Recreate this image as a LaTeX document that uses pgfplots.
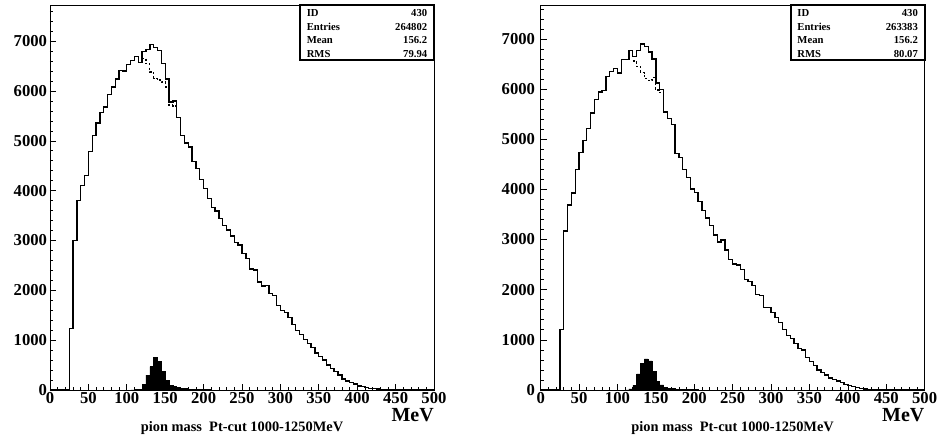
\documentclass[border=0pt]{standalone}
\usepackage{fontspec}
\setmainfont{Liberation Serif}
\usepackage{pgfplots}
\usepackage{pgfplotstable}
\pgfplotsset{compat=1.18}

\pgfplotstableread{
x y
0 0
25 1230
30 3000
35 3800
40 4100
45 4300
50 4780
55 5110
60 5360
65 5570
70 5680
75 5930
80 6080
85 6240
90 6410
95 6400
100 6530
105 6610
110 6690
115 6570
120 6790
125 6840
130 6930
135 6880
140 6820
145 6550
150 6240
155 5780
160 5800
165 5470
170 5110
175 4960
180 4880
185 4590
190 4440
195 4230
200 4040
205 3840
210 3660
215 3590
220 3440
225 3300
230 3210
235 3090
240 2960
245 2910
250 2740
255 2640
260 2430
265 2410
270 2170
275 2090
280 2100
285 1930
290 1890
295 1700
300 1600
305 1560
310 1450
315 1320
320 1200
325 1120
330 1020
335 936
340 850
345 740
350 670
355 600
360 500
365 430
370 370
375 300
380 220
385 180
390 150
395 120
400 80
405 65
410 45
415 33
420 27
425 20
430 13
435 8
440 5
445 3
450 2
455 0
500 0
}\mainL

\pgfplotstableread{
x y
120 6660
125 6550
130 6380
135 6250
140 6220
145 6180
150 6080
155 5720
160 5700
165 5700
}\dashL

\pgfplotstableread{
x y
105 0
110 20
115 20
120 110
125 300
130 470
135 650
140 570
145 380
150 190
155 100
160 65
165 45
170 30
175 25
180 20
185 15
190 12
195 10
200 8
205 5
210 0
}\fillL

\pgfplotstableread{
x y
0 0
25 1210
30 3170
35 3690
40 3930
45 4400
50 4740
55 4980
60 5220
65 5520
70 5790
75 5940
80 5970
85 6250
90 6350
95 6410
100 6320
105 6590
110 6590
115 6770
120 6650
125 6770
130 6900
135 6850
140 6740
145 6600
150 6120
155 5990
160 5540
165 5410
170 5290
175 4720
180 4640
185 4390
190 4240
195 4010
200 3940
205 3760
210 3580
215 3430
220 3280
225 3090
230 2950
235 2990
240 2790
245 2600
250 2510
255 2490
260 2400
265 2200
270 2160
275 2080
280 1900
285 1880
290 1650
295 1650
300 1540
305 1450
310 1340
315 1200
320 1080
325 1030
330 930
335 830
340 800
345 650
350 570
355 490
360 400
365 350
370 300
375 240
380 210
385 180
390 150
395 110
400 85
405 65
410 45
415 32
420 22
425 14
430 9
435 5
440 3
445 2
450 0
500 0
}\mainR

\pgfplotstableread{
x y
120 6560
125 6450
130 6330
135 6210
140 6170
145 6230
150 5980
155 5930
160 5930
}\dashR

\pgfplotstableread{
x y
110 0
115 20
120 90
125 320
130 530
135 620
140 580
145 370
150 170
155 100
160 55
165 35
170 25
175 18
180 12
185 10
190 8
195 6
200 5
205 0
}\fillR

\pgfplotsset{
  hbook/.style={
    scale only axis, width=288pt, height=288.5pt,
    xmin=0, xmax=500, ymin=0,
    clip=false,
    xtick={0,50,...,500},
    minor xtick={0,10,...,500},
    ytick={0,1000,...,7000},
    minor ytick={0,200,...,7600},
    xtick pos=bottom, ytick pos=left,
    tick align=inside,
    major tick length=4.5pt, minor tick length=2.2pt,
    axis line style={line width=0.6pt},
    every tick/.style={black, line width=0.5pt},
    ticklabel style={font=\fontsize{12.5}{14}\selectfont\bfseries},
    xticklabel style={inner sep=1.5pt},
    /pgf/number format/assume math mode=true,
    /pgf/number format/1000 sep={},
    scaled ticks=false,
  },
  hline/.style={const plot, black, line width=1pt},
  dline/.style={const plot, black, line width=0.9pt, dash pattern=on 1.6pt off 1.6pt},
  hfill/.style={const plot, fill=black, draw=black, line width=0.4pt},
}

\newcommand{\statbox}[4]{%
  \draw[line width=1.5pt] (rel axis cs:0.651,0.857) rectangle (rel axis cs:1,1);
  \node[anchor=west, font=\fontsize{8}{9}\selectfont\bfseries, inner sep=0] at (rel axis cs:0.668,0.980) {ID};
  \node[anchor=east, font=\fontsize{8}{9}\selectfont\bfseries, inner sep=0] at (rel axis cs:0.983,0.980) {#1};
  \node[anchor=west, font=\fontsize{8}{9}\selectfont\bfseries, inner sep=0] at (rel axis cs:0.668,0.944) {Entries};
  \node[anchor=east, font=\fontsize{8}{9}\selectfont\bfseries, inner sep=0] at (rel axis cs:0.983,0.944) {#2};
  \node[anchor=west, font=\fontsize{8}{9}\selectfont\bfseries, inner sep=0] at (rel axis cs:0.668,0.909) {Mean};
  \node[anchor=east, font=\fontsize{8}{9}\selectfont\bfseries, inner sep=0] at (rel axis cs:0.983,0.909) {#3};
  \node[anchor=west, font=\fontsize{8}{9}\selectfont\bfseries, inner sep=0] at (rel axis cs:0.668,0.874) {RMS};
  \node[anchor=east, font=\fontsize{8}{9}\selectfont\bfseries, inner sep=0] at (rel axis cs:0.983,0.874) {#4};
  \node[anchor=north east, font=\fontsize{15}{16}\selectfont\bfseries, inner sep=0] at ([yshift=-13.5pt]rel axis cs:1,0) {MeV};
  \node[anchor=center, font=\fontsize{10.8}{12}\selectfont\bfseries, inner sep=0] at ([yshift=-28.5pt]rel axis cs:0.5,0) {pion mass\ \ Pt-cut 1000-1250MeV};
}

\begin{document}
\begin{tikzpicture}
\useasboundingbox (0,0) rectangle (705pt,329.25pt);
\begin{axis}[hbook, at={(37.5pt,36.75pt)}, anchor=south west, ymax=7720,
  yticklabel style={inner sep=2pt}]
  \addplot[hfill] table {\fillL} \closedcycle;
  \addplot[hline] table {\mainL};
  \addplot[dline] table {\dashL};
  \statbox{430}{264802}{156.2}{79.94}
\end{axis}
\begin{axis}[hbook, at={(405.5pt,36.75pt)}, anchor=south west, ymax=7670,
  yticklabel style={inner sep=4pt}]
  \addplot[hfill] table {\fillR} \closedcycle;
  \addplot[hline] table {\mainR};
  \addplot[dline] table {\dashR};
  \statbox{430}{263383}{156.2}{80.07}
\end{axis}
\end{tikzpicture}
\end{document}
